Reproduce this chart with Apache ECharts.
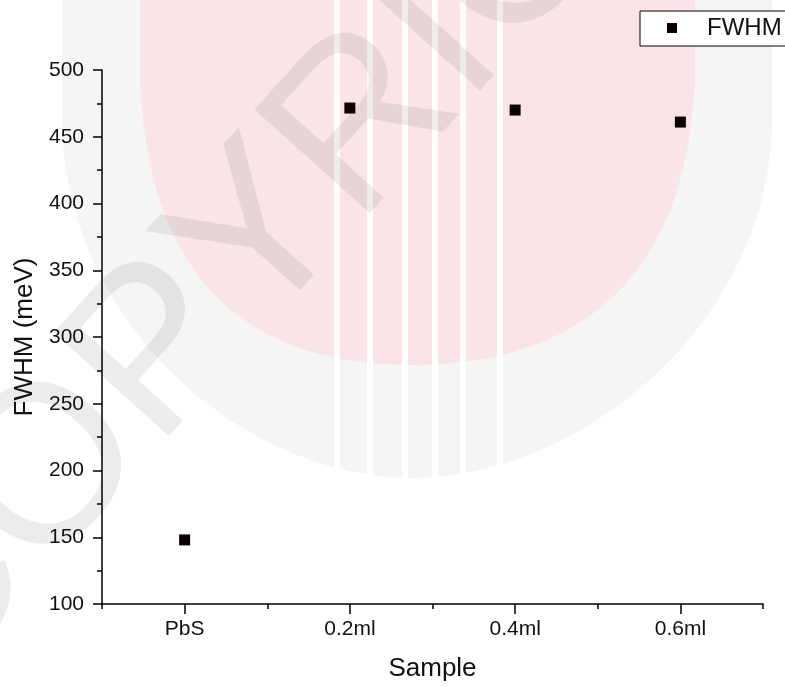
<!DOCTYPE html>
<html>
<head>
<meta charset="utf-8">
<script src="https://cdn.jsdelivr.net/npm/echarts@6/dist/echarts.min.js"></script>
<style>
  html, body { margin: 0; padding: 0; background: #fff; }
  #chart { width: 785px; height: 687px; }
</style>
</head>
<body>
<div id="chart"></div>
<script>
// Samples on the x axis
const samples = ['PbS', '0.2ml', '0.4ml', '0.6ml'];
// FWHM of each sample, meV
const fwhm = [148, 471.5, 470, 461];
// Y axis range and step
const yMin = 100;
const yMax = 500;
const yStep = 50;

const FONT = "'Liberation Sans', Arial, Helvetica, sans-serif";
const INK = '#111111';

const chart = echarts.init(document.getElementById('chart'), null, { renderer: 'canvas' });

// Sample a cubic Bezier into polygon points
function cubic(p0, p1, p2, p3, n) {
  const pts = [];
  for (let i = 0; i <= n; i++) {
    const t = i / n, u = 1 - t;
    pts.push([
      u * u * u * p0[0] + 3 * u * u * t * p1[0] + 3 * u * t * t * p2[0] + t * t * t * p3[0],
      u * u * u * p0[1] + 3 * u * u * t * p1[1] + 3 * u * t * t * p2[1] + t * t * t * p3[1]
    ]);
  }
  return pts;
}
// Shield outline: flat top, two curved sides meeting at a rounded bottom
function shield(l, r, shoulder, bottom, cx) {
  return [[l, 0]]
    .concat(cubic([l, shoulder], [l + 8, shoulder + 200], [cx - 165, bottom], [cx, bottom], 24))
    .concat(cubic([cx, bottom], [cx + 165, bottom], [r - 8, shoulder + 200], [r, shoulder], 24))
    .concat([[r, 0]]);
}

// Faint background emblem and "COPYRIGHT" stamp
const deg = Math.PI / 180;
const emblem = [
  {
    type: 'polygon', z: -30, silent: true,
    shape: { points: shield(62, 772, 130, 478, 412) },
    style: { fill: '#f5f5f5' }
  },
  {
    type: 'polygon', z: -29, silent: true,
    shape: { points: shield(140, 695, 80, 365, 412) },
    style: { fill: '#fae4e7' }
  }
];
[337, 370, 405, 435, 463, 500].forEach(function (sx) {
  emblem.push({
    type: 'rect', z: -28, silent: true,
    shape: { x: sx - 3, y: 0, width: 6, height: 478 },
    style: { fill: '#ffffff' }
  });
});
emblem.push({
  type: 'text', z: -27, silent: true,
  x: 332, y: 162, rotation: 48 * deg,
  style: {
    text: 'COPYRIGHT',
    x: 0, y: 0,
    align: 'center', verticalAlign: 'middle',
    font: '225px ' + FONT,
    fill: 'rgba(120,120,120,0.14)'
  }
});

const option = {
  backgroundColor: '#ffffff',
  animation: false,
  textStyle: { fontFamily: FONT, color: INK },
  graphic: emblem,
  grid: { left: 102, right: 22, top: 70, bottom: 82, containLabel: false },
  legend: {
    show: true,
    left: 640,
    top: 11,
    padding: [5, 40, 6, 27],
    itemWidth: 10,
    itemHeight: 10,
    icon: 'rect',
    borderColor: '#000',
    borderWidth: 1,
    backgroundColor: '#ffffff',
    itemStyle: { opacity: 1 },
    textStyle: { fontFamily: FONT, fontSize: 24, color: INK, padding: [0, 0, 0, 25] },
    data: ['FWHM']
  },
  xAxis: [
    {
      type: 'category',
      data: samples,
      position: 'bottom',
      boundaryGap: true,
      name: 'Sample',
      nameLocation: 'middle',
      nameGap: 52,
      nameTextStyle: { fontFamily: FONT, fontSize: 26, color: INK },
      axisLine: { show: true, onZero: false, lineStyle: { color: '#000', width: 1.5 } },
      axisTick: { show: true, alignWithLabel: true, inside: false, length: 10, lineStyle: { color: '#000', width: 1.5 } },
      axisLabel: { show: true, margin: 15, fontFamily: FONT, fontSize: 21, color: INK },
      splitLine: { show: false }
    },
    {
      // short ticks between the samples
      type: 'category',
      data: samples,
      position: 'bottom',
      boundaryGap: true,
      axisLine: { show: false },
      axisTick: { show: true, alignWithLabel: false, inside: false, length: 5, lineStyle: { color: '#000', width: 1.5 } },
      axisLabel: { show: false },
      splitLine: { show: false }
    }
  ],
  yAxis: {
    type: 'value',
    min: yMin,
    max: yMax,
    interval: yStep,
    name: 'FWHM (meV)',
    nameLocation: 'middle',
    nameGap: 63,
    nameRotate: 90,
    nameTextStyle: { fontFamily: FONT, fontSize: 26, color: INK },
    axisLine: { show: true, onZero: false, lineStyle: { color: '#000', width: 1.5 } },
    axisTick: { show: true, inside: false, length: 9, lineStyle: { color: '#000', width: 1.5 } },
    minorTick: { show: true, splitNumber: 2, length: 5, lineStyle: { color: '#000', width: 1.5 } },
    axisLabel: { show: true, margin: 18, fontFamily: FONT, fontSize: 21, color: INK },
    splitLine: { show: false },
    minorSplitLine: { show: false }
  },
  series: [
    {
      name: 'FWHM',
      type: 'scatter',
      xAxisIndex: 0,
      yAxisIndex: 0,
      symbol: 'rect',
      symbolSize: 11,
      itemStyle: { color: '#0d0003', opacity: 1 },
      data: samples.map(function (s, i) { return [s, fwhm[i]]; })
    }
  ]
};

chart.setOption(option);
</script>
</body>
</html>
